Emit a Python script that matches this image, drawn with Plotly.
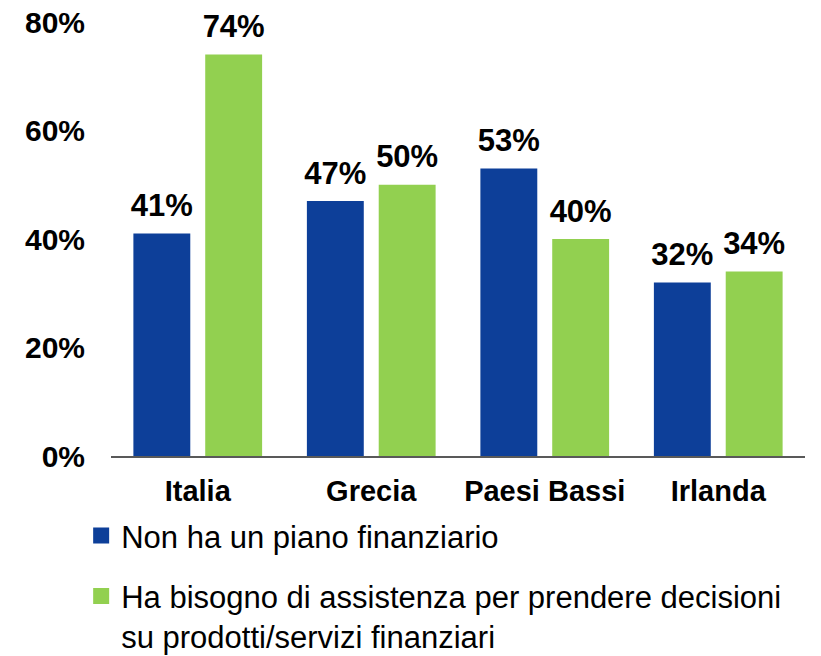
import plotly.graph_objects as go

categories = ["Italia", "Grecia", "Paesi Bassi", "Irlanda"]
series1_name = "Non ha un piano finanziario"
series1_values = [41, 47, 53, 32]
series2_name = "Ha bisogno di assistenza per prendere decisioni<br>su prodotti/servizi finanziari"
series2_values = [74, 50, 40, 34]
y_ticks = [0, 20, 40, 60, 80]
y_tick_labels = ["0%", "20%", "40%", "60%", "80%"]

BLUE = "#0D3F99"
GREEN = "#92D050"
FONT = "Liberation Sans, Arial, sans-serif"
GAP = 0.172

fig = go.Figure()
for vals, col, grp in [(series1_values, BLUE, "s1"), (series2_values, GREEN, "s2")]:
    fig.add_trace(go.Bar(
        x=categories, y=vals, marker=dict(color=col, line=dict(width=0)),
        offsetgroup=grp, showlegend=False, hoverinfo="x+y",
    ))
for vals, grp in [(series1_values, "s1"), (series2_values, "s2")]:
    fig.add_trace(go.Scatter(
        x=categories, y=vals, mode="markers+text", offsetgroup=grp,
        text=[f"{v}%" for v in vals], textposition="top center",
        textfont=dict(family=FONT, size=31, color="black", weight="bold"),
        marker=dict(size=14, color="rgba(0,0,0,0)"),
        cliponaxis=False, showlegend=False, hoverinfo="skip",
    ))
# legend entries with larger square symbols
fig.add_trace(go.Scatter(
    x=[None], y=[None], mode="markers", name=series1_name,
    marker=dict(symbol="square", size=16, color=BLUE), legendgroup="a",
))
fig.add_trace(go.Scatter(
    x=[None], y=[None], mode="markers", name=series2_name,
    marker=dict(symbol="square", size=16, color=GREEN), legendgroup="b",
))

fig.update_layout(
    width=821, height=656,
    margin=dict(l=111, r=16, t=22, b=200, autoexpand=False),
    paper_bgcolor="white", plot_bgcolor="white",
    barmode="group", bargap=GAP, bargroupgap=0.208,
    scattermode="group", scattergap=GAP,
    font=dict(family=FONT, color="black"),
    legend=dict(
        x=-0.043, y=-0.122, xanchor="left", yanchor="top",
        font=dict(family=FONT, size=31, color="black"),
        itemsizing="trace", valign="top",
        traceorder="grouped", tracegroupgap=17,
        bgcolor="rgba(0,0,0,0)",
    ),
    xaxis=dict(
        showline=True, linecolor="#595959", linewidth=2,
        showgrid=False, ticks="outside", ticklen=8, tickcolor="rgba(0,0,0,0)",
        tickfont=dict(family=FONT, size=29, color="black", weight="bold"),
        fixedrange=True, automargin=False,
    ),
    yaxis=dict(
        range=[0, 80], tickvals=y_ticks, ticktext=y_tick_labels,
        showline=False, showgrid=False, zeroline=False,
        ticks="outside", ticklen=19, tickcolor="rgba(0,0,0,0)",
        tickfont=dict(family=FONT, size=30, color="black", weight="bold"),
        ticklabeloverflow="allow",
        fixedrange=True, automargin=False,
    ),
)

# remove the default 8px page margin so the figure fills the window exactly
fig.write_html(
    "out.html",
    config={"displayModeBar": False},
    post_script="document.body.style.margin='0';document.body.style.overflow='hidden';",
)
